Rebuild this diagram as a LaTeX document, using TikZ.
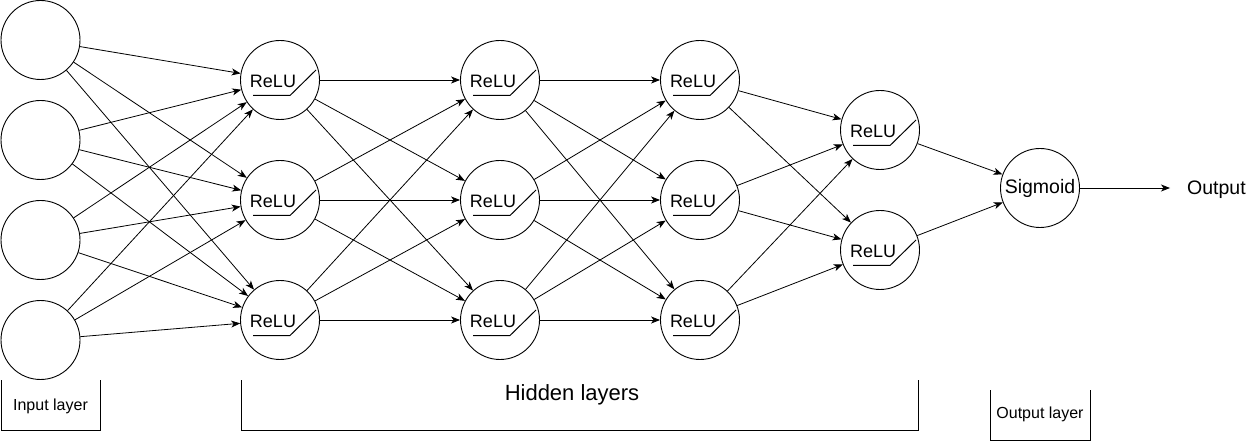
\documentclass[tikz,border=0pt]{standalone}
\usepackage{fontspec}
\setmainfont{Liberation Sans}
\usetikzlibrary{arrows.meta}
\tikzset{
  neuron/.style={circle, draw, line width=0.9pt, minimum size=79pt, inner sep=0pt},
  relu/.style={neuron,
    label={[font=\fontsize{18}{21}\selectfont, xshift=-7pt, yshift=-1pt]center:ReLU},
    path picture={\draw[line width=1pt] (path picture bounding box.center) ++(-27pt,-15.5pt) -- ++(37pt,0pt) -- ++(26pt,25.5pt);}},
  arr/.style={line width=0.8pt, -{Stealth[length=9pt,width=7pt,inset=2.5pt]}},
  bracket/.style={line width=0.9pt},
  lbl/.style={font=\fontsize{16}{19}\selectfont, inner sep=0pt},
}
\begin{document}
\begin{tikzpicture}[x=1pt, y=-1pt]
\useasboundingbox (0,0) rectangle (1249,443);
% input layer
\foreach \i/\y in {1/40,2/140,3/240,4/340} \node[neuron] (i\i) at (40.5,\y) {};
% hidden layers
\foreach \i/\y in {1/80,2/200,3/320} {
  \node[relu] (a\i) at (280,\y) {};
  \node[relu] (b\i) at (500,\y) {};
  \node[relu] (c\i) at (700,\y) {};
}
\node[relu] (d1) at (880,130) {};
\node[relu] (d2) at (880,250) {};
\node[neuron, font=\fontsize{19.5}{22}\selectfont] (s) at (1040,188) {\raisebox{-1pt}{Sigmoid}};
\node[font=\fontsize{19.5}{22}\selectfont, inner sep=0pt, anchor=west] (o) at (1187,189.5) {Output};
% connections
\foreach \i in {1,...,4} \foreach \j in {1,2,3} \draw[arr] (i\i) -- (a\j);
\foreach \i in {1,2,3} \foreach \j in {1,2,3} {
  \draw[arr] (a\i) -- (b\j);
  \draw[arr] (b\i) -- (c\j);
}
\foreach \i in {1,2,3} \foreach \j in {1,2} \draw[arr] (c\i) -- (d\j);
\foreach \j in {1,2} \draw[arr] (d\j) -- (s);
\draw[arr, shorten >=17pt] (s) -- (o.west |- s);
% brackets
\draw[bracket] (1,380) -- (1,430) -- (100,430) -- (100,380);
\node[lbl] (li) at (50.5,406) {Input layer};
\draw[bracket] (241,380) -- (241,430) -- (918.5,430) -- (918.5,380);
\node[lbl, font=\fontsize{22}{25}\selectfont] (lh) at (572,394.5) {Hidden layers};
\draw[bracket] (990,390) -- (990,440) -- (1090,440) -- (1090,390);
\node[lbl] (lo) at (1040,414) {Output layer};
\end{tikzpicture}
\end{document}
